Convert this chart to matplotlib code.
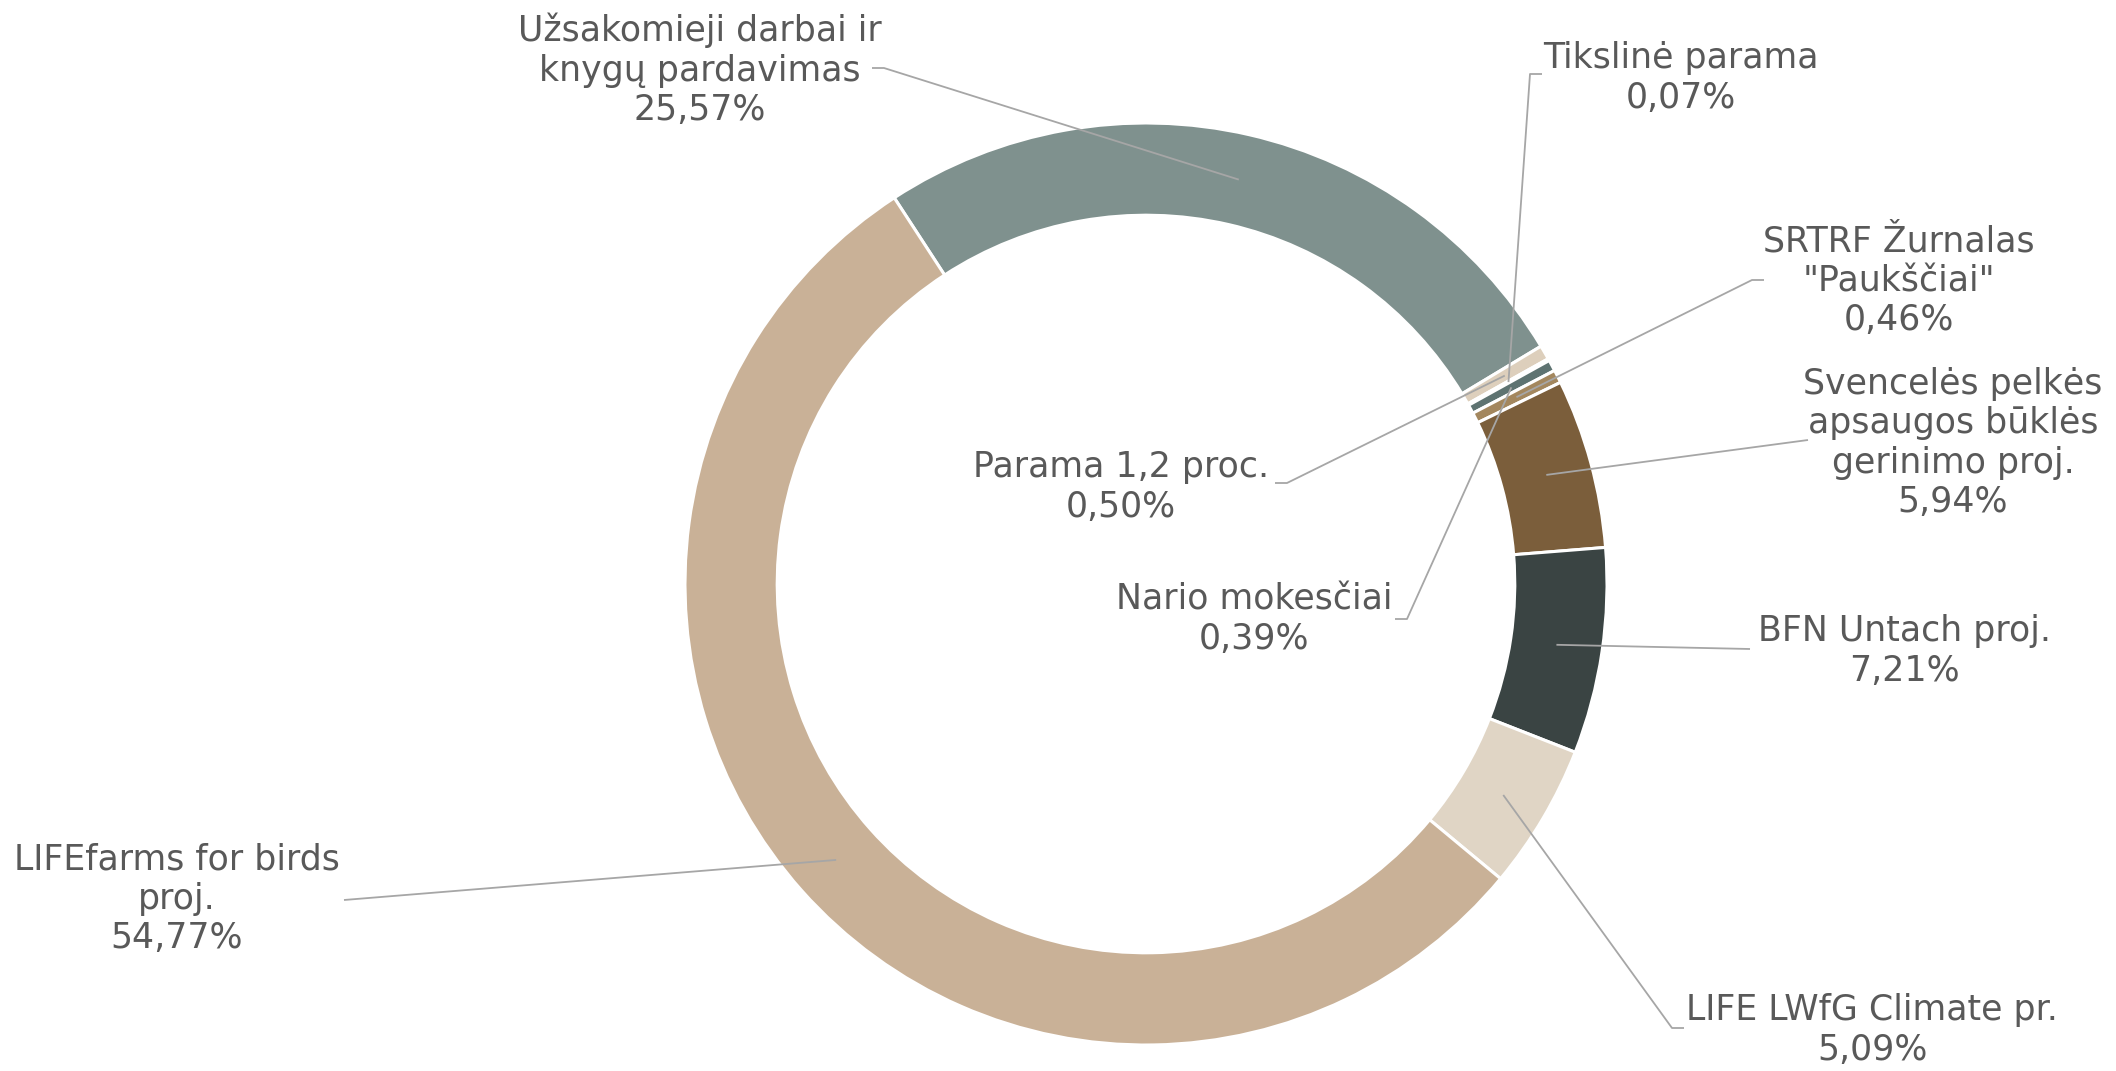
import numpy as np
import matplotlib.pyplot as plt

labels = ["Užsakomieji darbai ir\nknygų pardavimas", "Parama 1,2 proc.", "Tikslinė parama",
          "Nario mokesčiai", "SRTRF Žurnalas\n\"Paukščiai\"",
          "Svencelės pelkės\napsaugos būklės\ngerinimo proj.", "BFN Untach proj.",
          "LIFE LWfG Climate pr.", "LIFEfarms for birds\nproj."]
values = [25.57, 0.50, 0.07, 0.39, 0.46, 5.94, 7.21, 5.09, 54.77]
colors = ["#7F918E", "#DDCFBC", "#A9B4B2", "#5E7371", "#A3875E",
          "#7B5E3B", "#3A4443", "#E0D5C5", "#C9B197"]

# label centre and leader elbow, in pixels of the 2116x1071 picture
label_px = [(700, 70), (1121, 487), (1681, 78), (1254, 619), (1899, 281),
            (1953, 443), (1904, 651), (1872, 1030), (177, 899)]
elbow_px = [(884, 68), (1287, 483), (1530, 74), (1407, 619), (1752, 280),
            (1808, 440), (1750, 649), (1672, 1028), (344, 900)]
stub_dx = [-12, -12, 12, -12, 12, 0, 0, 12, 0]

W, H = 2116, 1071
cx, cy, R = 1146, 584, 461

fig = plt.figure(figsize=(W / 100, H / 100), dpi=100)
ax = fig.add_axes([0, 0, 1, 1])


def to_data(p):
    return (p[0] - cx) / R, (cy - p[1]) / R


start = 123.1
wedges, _ = ax.pie(values, colors=colors, startangle=start, counterclock=False,
                   radius=1, wedgeprops=dict(width=0.2, edgecolor="white", linewidth=2.2))
ax.set_xlim(-cx / R, (W - cx) / R)
ax.set_ylim(-(H - cy) / R, cy / R)
ax.set_aspect("equal")
ax.axis("off")

txt = "#595959"
line = "#A6A6A6"
cum = 0
for i, (lab, v) in enumerate(zip(labels, values)):
    mid = np.deg2rad(start - (cum + v / 2) * 3.6)
    cum += v
    px, py = 0.9 * np.cos(mid), 0.9 * np.sin(mid)
    ex, ey = to_data(elbow_px[i])
    sx, sy = to_data((elbow_px[i][0] + stub_dx[i], elbow_px[i][1]))
    ax.plot([px, ex, sx], [py, ey, sy], color=line, lw=1.3, solid_capstyle="butt")
    tx, ty = to_data(label_px[i])
    ax.text(tx, ty, lab + "\n" + f"{v:.2f}".replace(".", ",") + "%", ha="center", va="center",
            fontsize=25, color=txt, linespacing=1.2, family="DejaVu Sans")

fig.savefig("out.png", dpi=100)
